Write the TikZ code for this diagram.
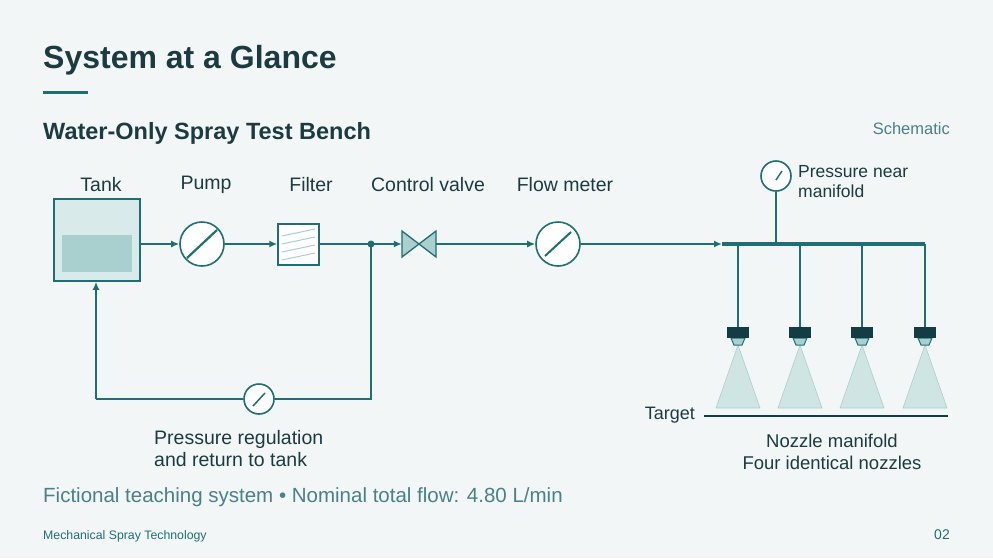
\documentclass[tikz,border=0pt]{standalone}
\usepackage{fontspec}
\setmainfont{Liberation Sans}
\usetikzlibrary{arrows.meta}
\definecolor{bg}{HTML}{F2F6F7}
\definecolor{ink}{HTML}{1B3B40}
\definecolor{pipe}{HTML}{1F6E72}
\definecolor{soft}{HTML}{4A8088}
\definecolor{lightf}{HTML}{D8EAEA}
\definecolor{midf}{HTML}{A9CFCF}
\definecolor{cone}{HTML}{CFE5E4}
\definecolor{dark}{HTML}{143C44}
\begin{document}
\begin{tikzpicture}[x=1pt,y=-1pt,
  pipeline/.style={draw=pipe,line width=2.2pt},
  flow/.style={pipeline,-{Latex[length=8pt,width=7pt]}},
  lab/.style={text=ink,font=\fontsize{19.5}{23}\selectfont,inner sep=0pt},
  gauge/.style={circle,draw=pipe,fill=white,line width=1.6pt,inner sep=0pt},
  nozzle/.pic={
    \fill[cone,draw=midf,line width=0.6pt] (0,345)--(-22,408)--(22,408)--cycle;
    \fill[midf,draw=pipe,line width=1pt] (-7,338)--(7,338)--(4,345)--(-4,345)--cycle;
    \fill[dark] (-11,327) rectangle (11,338);
  }]
\fill[bg] (0,0) rectangle (993,558);
\useasboundingbox (0,0) rectangle (993,558);
\node[anchor=base west,inner sep=0pt,text=ink,font=\fontsize{32}{38}\selectfont\bfseries] (title) at (43,68) {System at a Glance};
\draw[pipe,line width=3pt] (43,92) -- (88,92);
\node[anchor=base west,inner sep=0pt,text=ink,font=\fontsize{23.5}{28}\selectfont\bfseries] (sub) at (43,139) {Water-Only Spray Test Bench};
\node[anchor=base east,inner sep=0pt,text=soft,font=\fontsize{16.5}{20}\selectfont] (sch) at (950,134) {Schematic};
% labels
\node[lab] (lt) at (101,185) {Tank};
\node[lab] (lp) at (206,185) {Pump};
\node[lab] (lf) at (311,185) {Filter};
\node[lab] (lv) at (428,185) {Control valve};
\node[lab] (lm) at (565,185) {Flow meter};
% tank
\node[draw=pipe,fill=lightf,line width=1.6pt,minimum width=86pt,minimum height=82pt,inner sep=0pt] (tank) at (97,240) {};
\fill[midf] (62,235) rectangle (132,272);
% pump
\node[gauge,minimum size=44pt] (pump) at (202,244) {};
\draw[pipe,line width=2.2pt] (187,258)--(217,230);
% filter
\node[draw=pipe,fill=white,line width=1.4pt,minimum size=41pt,inner sep=0pt] (filter) at (298.5,244.5) {};
\foreach \y in {0,8,16,24}{\draw[midf,line width=1pt] (282,236+\y)--(315,229+\y);}
% junction
\coordinate (jn) at (371,244);
\fill[pipe] (jn) circle (3.5pt);
% valve
\node[minimum width=34pt,minimum height=26pt,inner sep=0pt] (valve) at (419,244) {};
\fill[midf,draw=pipe,line width=1.3pt] (402,231)--(402,257)--(419,244)--cycle (436,231)--(436,257)--(419,244)--cycle;
% flow meter
\node[gauge,minimum size=44pt] (meter) at (558,244) {};
\draw[pipe,line width=2pt] (545,256)--(571,232);
% manifold
\coordinate (mstart) at (722,244);
\coordinate (mend) at (925,244);
\draw[flow] (tank.east|-pump) -- (pump.west);
\draw[flow] (pump.east) -- (filter.west|-pump);
\draw[pipeline] (filter.east|-jn) -- (jn);
\draw[flow] (jn) -- (valve.west);
\draw[flow] (valve.east) -- (meter.west);
\draw[flow] (meter.east) -- (mstart);
\draw[pipe,line width=4pt] (mstart) -- (mend);
% pressure gauge near manifold
\node[gauge,minimum size=30pt] (pg) at (776,176) {};
\draw[pipe,line width=1.5pt] (776,180)--(782,171);
\draw[pipe,line width=1.5pt] (pg.south) -- (pg.south|-mstart);
\node[lab,anchor=west,align=left,font=\fontsize{17.5}{20}\selectfont] (pgl) at (798,182) {Pressure near\\manifold};
% drops and nozzles
\foreach \x in {738,800,862,925}{
  \draw[pipe,line width=2.6pt] (\x,244) -- (\x,327);
  \pic at (\x,0) {nozzle};
}
\coordinate (t1) at (704,416);
\coordinate (t2) at (948,416);
\draw[dark,line width=2.2pt] (t1)--(t2);
\node[lab,anchor=east,font=\fontsize{18}{20}\selectfont] (tl) at (695,415) {Target};
\node[lab,align=center,font=\fontsize{18.5}{22}\selectfont] (nm) at (832,452) {Nozzle manifold\\Four identical nozzles};
% return line
\coordinate (r1) at (371,399);
\coordinate (r2) at (96,399);
\node[gauge,minimum size=30pt] (rg) at (259,399) {};
\draw[pipe,line width=1.5pt] (253,406)--(265,393);
\draw[pipeline] (jn) -- (r1) -- (rg.east);
\draw[pipeline] (rg.west) -- (r2);
\draw[flow] (r2) -- (tank.south-|r2);
\node[lab,anchor=west,align=left,font=\fontsize{19.5}{22}\selectfont] (rl) at (154,449) {Pressure regulation\\and return to tank};
% footer
\node[anchor=base west,inner sep=0pt,text=soft,font=\fontsize{20.5}{24}\selectfont] (ft) at (43,502) {Fictional teaching system • Nominal total flow: 4.80 L/min};
\node[anchor=base west,inner sep=0pt,text=pipe,font=\fontsize{12.3}{14}\selectfont] (fl) at (43,539) {Mechanical Spray Technology};
\node[anchor=base east,inner sep=0pt,text=pipe,font=\fontsize{14}{16}\selectfont] (pn) at (950,539) {02};
\end{tikzpicture}
\end{document}
